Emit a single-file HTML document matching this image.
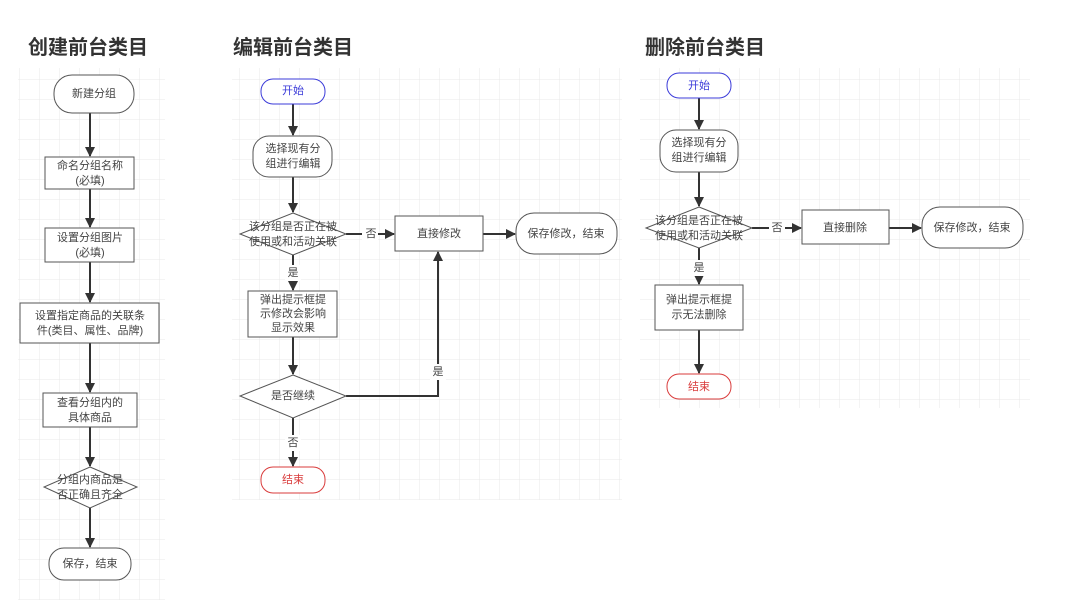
<!DOCTYPE html>
<html><head><meta charset="utf-8"><style>
html,body{margin:0;padding:0;background:#fff;}
svg{display:block;font-family:"Liberation Sans","Noto Sans CJK SC",sans-serif;}
.t{font-size:20px;font-weight:bold;fill:#333;}
.n{font-size:11px;fill:#444;text-anchor:middle;dominant-baseline:central;}
.s{fill:#fff;stroke:#555;stroke-width:1;}
.l{stroke:#333;stroke-width:2;fill:none;}
</style></head><body>
<svg width="1080" height="600" viewBox="0 0 1080 600">
<defs>
<pattern id="g" width="20" height="20" patternUnits="userSpaceOnUse">
<path d="M20 0V20M0 20H20" stroke="#e8e8e8" stroke-width="1" fill="none"/>
</pattern>
<marker id="a" markerWidth="10" markerHeight="10" refX="9" refY="5" orient="auto" markerUnits="userSpaceOnUse"><path d="M0,0 L10,5 L0,10z" fill="#333"/></marker>
</defs>
<rect x="18" y="68" width="147" height="532" fill="url(#g)"/>
<rect x="232" y="68" width="390" height="432" fill="url(#g)"/>
<rect x="640" y="68" width="390" height="340" fill="url(#g)"/>

<text class="t" x="28" y="54">创建前台类目</text>
<text class="t" x="233" y="54">编辑前台类目</text>
<text class="t" x="645" y="54">删除前台类目</text>

<!-- Left -->
<g>
<line class="l" x1="90" y1="113" x2="90" y2="156" marker-end="url(#a)"/>
<line class="l" x1="90" y1="189" x2="90" y2="227" marker-end="url(#a)"/>
<line class="l" x1="90" y1="262" x2="90" y2="302" marker-end="url(#a)"/>
<line class="l" x1="90" y1="343" x2="90" y2="392" marker-end="url(#a)"/>
<line class="l" x1="90" y1="427" x2="90" y2="466" marker-end="url(#a)"/>
<line class="l" x1="90" y1="508" x2="90" y2="547" marker-end="url(#a)"/>
<rect class="s" x="54" y="75" width="80" height="38" rx="18"/>
<text class="n" x="94" y="94">新建分组</text>
<rect class="s" x="45" y="157" width="89" height="32"/>
<text class="n" x="90" y="166">命名分组名称</text><text class="n" x="90" y="181">(必填)</text>
<rect class="s" x="45" y="228" width="89" height="34"/>
<text class="n" x="90" y="238">设置分组图片</text><text class="n" x="90" y="253">(必填)</text>
<rect class="s" x="20" y="303" width="139" height="40"/>
<text class="n" x="90" y="316">设置指定商品的关联条</text><text class="n" x="90" y="331">件(类目、属性、品牌)</text>
<rect class="s" x="43" y="393" width="94" height="34"/>
<text class="n" x="90" y="403">查看分组内的</text><text class="n" x="90" y="418">具体商品</text>
<polygon class="s" points="90,467 137,487 90,508 44,487"/>
<text class="n" x="90" y="480">分组内商品是</text><text class="n" x="90" y="495">否正确且齐全</text>
<rect class="s" x="49" y="548" width="82" height="32" rx="15"/>
<text class="n" x="90" y="564">保存，结束</text>
</g>

<!-- Middle -->
<g>
<line class="l" x1="293" y1="104" x2="293" y2="135" marker-end="url(#a)"/>
<line class="l" x1="293" y1="177" x2="293" y2="212" marker-end="url(#a)"/>
<line class="l" x1="346" y1="234" x2="394" y2="234" marker-end="url(#a)"/>
<line class="l" x1="483" y1="234" x2="515" y2="234" marker-end="url(#a)"/>
<line class="l" x1="293" y1="255" x2="293" y2="290" marker-end="url(#a)"/>
<line class="l" x1="293" y1="337" x2="293" y2="374" marker-end="url(#a)"/>
<polyline class="l" points="346,396 438,396 438,252" marker-end="url(#a)"/>
<line class="l" x1="293" y1="418" x2="293" y2="466" marker-end="url(#a)"/>
<rect x="362" y="226" width="16" height="16" fill="#fff"/><text class="n" x="371" y="234">否</text>
<rect x="285" y="265" width="16" height="16" fill="#fff"/><text class="n" x="293" y="273">是</text>
<rect x="430" y="364" width="16" height="16" fill="#fff"/><text class="n" x="438" y="372">是</text>
<rect x="285" y="435" width="16" height="16" fill="#fff"/><text class="n" x="293" y="443">否</text>
<rect x="261" y="79" width="64" height="25" rx="12" fill="#fff" stroke="#3b3bd9"/>
<text class="n" x="293" y="91" style="fill:#3b3bd9">开始</text>
<rect class="s" x="253" y="136" width="79" height="41" rx="16"/>
<text class="n" x="293" y="149">选择现有分</text><text class="n" x="293" y="164">组进行编辑</text>
<polygon class="s" points="293,213 346,234 293,255 240,234"/>
<text class="n" x="293" y="227">该分组是否正在被</text><text class="n" x="293" y="242">使用或和活动关联</text>
<rect class="s" x="395" y="216" width="88" height="35"/>
<text class="n" x="439" y="234">直接修改</text>
<rect class="s" x="516" y="213" width="101" height="41" rx="18"/>
<text class="n" x="566" y="234">保存修改，结束</text>
<rect class="s" x="248" y="291" width="89" height="46"/>
<text class="n" x="293" y="300">弹出提示框提</text><text class="n" x="293" y="314">示修改会影响</text><text class="n" x="293" y="328">显示效果</text>
<polygon class="s" points="293,375 346,396 293,418 240,396"/>
<text class="n" x="293" y="396">是否继续</text>
<rect x="261" y="467" width="64" height="26" rx="12" fill="#fff" stroke="#d93b3b"/>
<text class="n" x="293" y="480" style="fill:#d93b3b">结束</text>
</g>

<!-- Right -->
<g>
<line class="l" x1="699" y1="98" x2="699" y2="129" marker-end="url(#a)"/>
<line class="l" x1="699" y1="172" x2="699" y2="206" marker-end="url(#a)"/>
<line class="l" x1="752" y1="228" x2="801" y2="228" marker-end="url(#a)"/>
<line class="l" x1="889" y1="228" x2="921" y2="228" marker-end="url(#a)"/>
<line class="l" x1="699" y1="248" x2="699" y2="284" marker-end="url(#a)"/>
<line class="l" x1="699" y1="330" x2="699" y2="373" marker-end="url(#a)"/>
<rect x="769" y="220" width="16" height="16" fill="#fff"/><text class="n" x="777" y="228">否</text>
<rect x="691" y="260" width="16" height="16" fill="#fff"/><text class="n" x="699" y="268">是</text>
<rect x="667" y="73" width="64" height="25" rx="12" fill="#fff" stroke="#3b3bd9"/>
<text class="n" x="699" y="86" style="fill:#3b3bd9">开始</text>
<rect class="s" x="660" y="130" width="78" height="42" rx="16"/>
<text class="n" x="699" y="143">选择现有分</text><text class="n" x="699" y="158">组进行编辑</text>
<polygon class="s" points="699,207 752,228 699,248 646,228"/>
<text class="n" x="699" y="221">该分组是否正在被</text><text class="n" x="699" y="236">使用或和活动关联</text>
<rect class="s" x="802" y="210" width="87" height="34"/>
<text class="n" x="845" y="228">直接删除</text>
<rect class="s" x="922" y="207" width="101" height="41" rx="18"/>
<text class="n" x="972" y="228">保存修改，结束</text>
<rect class="s" x="655" y="285" width="88" height="45"/>
<text class="n" x="699" y="300">弹出提示框提</text><text class="n" x="699" y="315">示无法删除</text>
<rect x="667" y="374" width="64" height="25" rx="12" fill="#fff" stroke="#d93b3b"/>
<text class="n" x="699" y="387" style="fill:#d93b3b">结束</text>
</g>
</svg>
</body></html>
